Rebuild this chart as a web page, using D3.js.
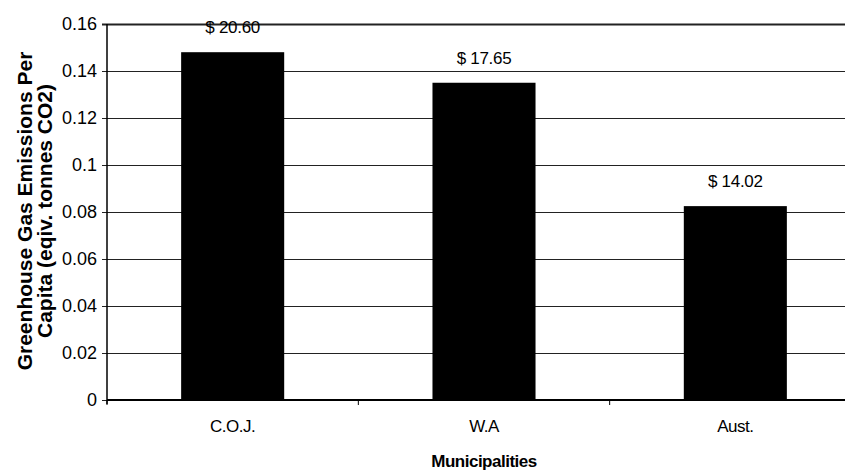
<!DOCTYPE html>
<html>
<head>
<meta charset="utf-8">
<script src="https://cdn.jsdelivr.net/npm/d3@7"></script>
<style>
  html, body { margin: 0; padding: 0; background: #fff; }
  svg { display: block; font-family: "Liberation Sans", Arial, sans-serif; }
</style>
</head>
<body>
<svg id="chart" width="845" height="475"></svg>
<script>
// Municipalities compared
const categories = ["C.O.J.", "W.A", "Aust."];
// Greenhouse gas emissions per capita (tonnes CO2 equivalent)
const emissions = [0.148, 0.135, 0.0825];
// Cost labels printed above each bar
const costLabels = ["$ 20.60", "$ 17.65", "$ 14.02"];
// Value axis ticks and their printed labels
const yTicks = [0, 0.02, 0.04, 0.06, 0.08, 0.1, 0.12, 0.14, 0.16];
const yTickLabels = ["0", "0.02", "0.04", "0.06", "0.08", "0.1", "0.12", "0.14", "0.16"];

const svg = d3.select("#chart");
const plotLeft = 107, plotRight = 861, plotTop = 24, plotBottom = 400;

const x = d3.scaleBand().domain(categories).range([plotLeft, plotRight]).padding(0);
const y = d3.scaleLinear().domain([0, 0.16]).range([plotBottom, plotTop]);
const barW = x.bandwidth() * 0.41;

// Horizontal gridlines with short ticks left of the axis
const yAxis = d3.axisLeft(y)
  .tickValues(yTicks)
  .tickSize(-(plotRight - plotLeft))
  .tickSizeOuter(0)
  .tickPadding(10)
  .tickFormat((d, i) => yTickLabels[i]);

const gy = svg.append("g").attr("transform", `translate(${plotLeft},0)`).call(yAxis);
gy.select(".domain").remove();
gy.selectAll(".tick line")
  .attr("x1", -5)
  .attr("stroke", "#222")
  .attr("stroke-width", d => d === 0.16 ? 2 : 1);
gy.selectAll(".tick text")
  .attr("font-size", 18)
  .attr("fill", "#000")
  .attr("font-family", "Liberation Sans, Arial, sans-serif");

// Bars
svg.append("g").selectAll("rect")
  .data(categories)
  .join("rect")
  .attr("x", (d) => x(d) + (x.bandwidth() - barW) / 2)
  .attr("width", barW)
  .attr("y", (d, i) => y(emissions[i]))
  .attr("height", (d, i) => y(0) - y(emissions[i]))
  .attr("fill", "#000");

// Cost labels above bars
svg.append("g").selectAll("text")
  .data(categories)
  .join("text")
  .attr("x", d => x(d) + x.bandwidth() / 2)
  .attr("y", (d, i) => y(emissions[i]) - 19)
  .attr("text-anchor", "middle")
  .attr("font-size", 17)
  .attr("letter-spacing", -0.3)
  .text((d, i) => costLabels[i]);

// Left axis line
svg.append("line")
  .attr("x1", plotLeft).attr("x2", plotLeft)
  .attr("y1", plotTop).attr("y2", plotBottom + 4)
  .attr("stroke", "#000").attr("stroke-width", 1.5);

// Category axis
const xAxis = d3.axisBottom(x).tickSize(0).tickPadding(20);
const gx = svg.append("g").attr("transform", `translate(0,${plotBottom})`).call(xAxis);
gx.select(".domain").attr("stroke", "#000").attr("stroke-width", 2).attr("d", `M${plotLeft},0H${plotRight}`);
gx.selectAll(".tick text")
  .attr("font-size", 17)
  .attr("letter-spacing", -0.5)
  .attr("fill", "#000")
  .attr("font-family", "Liberation Sans, Arial, sans-serif");

// Tick marks at category boundaries
svg.append("g").selectAll("line")
  .data(d3.range(categories.length + 1))
  .join("line")
  .attr("x1", i => plotLeft + i * x.step())
  .attr("x2", i => plotLeft + i * x.step())
  .attr("y1", plotBottom).attr("y2", plotBottom + 5)
  .attr("stroke", "#000").attr("stroke-width", 1);

// Axis titles
svg.append("text")
  .attr("x", (plotLeft + plotRight) / 2)
  .attr("y", 467)
  .attr("text-anchor", "middle")
  .attr("font-size", 17)
  .attr("font-weight", "bold")
  .attr("letter-spacing", -0.5)
  .text("Municipalities");

const yTitle = svg.append("text")
  .attr("transform", `translate(0,${(plotTop + plotBottom) / 2 - 1}) rotate(-90)`)
  .attr("text-anchor", "middle")
  .attr("font-size", 21)
  .attr("font-weight", "bold");
yTitle.append("tspan").attr("x", 0).attr("y", 32).text("Greenhouse Gas Emissions Per");
yTitle.append("tspan").attr("x", 0).attr("y", 52).text("Capita (eqiv. tonnes CO2)");
</script>
</body>
</html>
